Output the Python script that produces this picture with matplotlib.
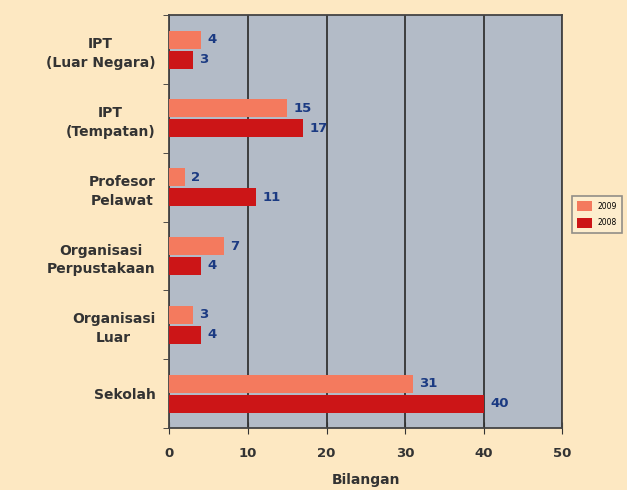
import matplotlib
matplotlib.use("Agg")
import matplotlib.pyplot as plt
import numpy as np

categories = ["IPT\n(Luar Negara)", "IPT\n(Tempatan)", "Profesor\nPelawat",
              "Organisasi\nPerpustakaan", "Organisasi\nLuar", "Sekolah"]
v2009 = [4, 15, 2, 7, 3, 31]
v2008 = [3, 17, 11, 4, 4, 40]
xticks = [0, 10, 20, 30, 40, 50]

plt.rcParams['font.family'] = ['DejaVu Sans']
fig = plt.figure(figsize=(6.27, 4.90), dpi=100, facecolor='#FDE8C2')
ax = fig.add_axes([0.270, 0.1265, 0.627, 0.8425])
ax.set_facecolor('#B3BBC7')

n = len(categories)
y = np.arange(n)
h = 0.26
off = h/2 + 0.015
b1 = ax.barh(y - off, v2009, height=h, color='#F47A5E', label='2009', zorder=3)
b2 = ax.barh(y + off, v2008, height=h, color='#CC1517', label='2008', zorder=3)

for yy, v in zip(y - off, v2009):
    ax.text(v + 0.8, yy, str(v), va='center', ha='left', color='#1B3A82',
            fontsize=9.5, fontweight='bold', zorder=4)
for yy, v in zip(y + off, v2008):
    ax.text(v + 0.8, yy, str(v), va='center', ha='left', color='#1B3A82',
            fontsize=9.5, fontweight='bold', zorder=4)

ax.set_ylim(n - 0.5, -0.5)
ax.set_xlim(0, 50)
ax.set_xticks(xticks)
ax.set_xticklabels([str(t) for t in xticks], fontsize=9.5, fontweight='bold', color='#333333')
ax.set_yticks(y)
labels = ax.set_yticklabels(categories, fontsize=10, fontweight='bold', color='#333333',
                            linespacing=1.45, multialignment='center')
ax.tick_params(axis='y', length=0, pad=10)
ax.set_yticks(np.arange(n + 1) - 0.5, minor=True)
ax.tick_params(axis='y', which='minor', length=4, direction='out', color='#333333')
ax.tick_params(axis='x', length=8, direction='inout', color='#333333', pad=10)
ax.set_xlabel("Bilangan", fontsize=10, fontweight='bold', color='#333333', labelpad=9)

ax.grid(axis='x', color='#333333', linewidth=1.3, zorder=1)
for s in ax.spines.values():
    s.set_color('#444444')
    s.set_linewidth(1.3)

leg = fig.legend(handles=[b1, b2], labels=['2009', '2008'], loc='upper left',
                 bbox_to_anchor=(0.912, 0.600), fontsize=5.5, frameon=True,
                 fancybox=False, edgecolor='#777777', handlelength=2.0,
                 handleheight=1.6, borderpad=0.7, labelspacing=0.9,
                 handletextpad=0.6, borderaxespad=0)
leg.get_frame().set_facecolor('#FDEFD0')
leg.get_frame().set_linewidth(1.2)

fig.savefig("out.png", dpi=100, facecolor=fig.get_facecolor())
